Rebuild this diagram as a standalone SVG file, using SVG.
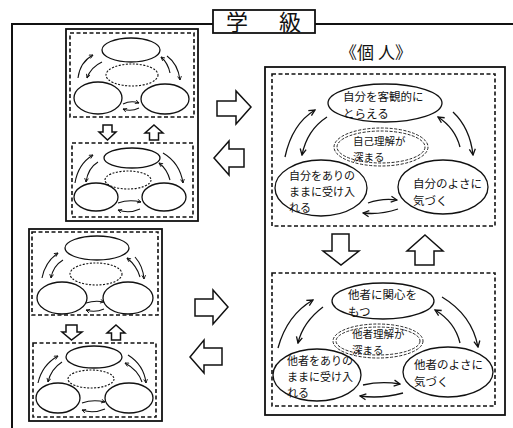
<svg xmlns="http://www.w3.org/2000/svg" width="513" height="428" viewBox="0 0 513 428">
<defs>
<style>
.frame{fill:none;stroke:#111;stroke-width:2}
.panel{fill:none;stroke:#111;stroke-width:1.8}
.dash{fill:none;stroke:#111;stroke-width:1.6;stroke-dasharray:4 2.5}
.ell{fill:#fff;stroke:#111;stroke-width:1.3}
.dot{fill:none;stroke:#111;stroke-width:1.1;stroke-dasharray:2 1.5}
.dot2{fill:none;stroke:#111;stroke-width:0.9;stroke-dasharray:3 1.5}
.arr{fill:none;stroke:#111;stroke-width:1.1;marker-end:url(#h)}
.arrb{fill:none;stroke:#111;stroke-width:1.3;marker-end:url(#hb)}
.blk{fill:#fff;stroke:#111;stroke-width:1.5;stroke-linejoin:miter}
.t{font-family:"Noto Sans CJK JP","Noto Sans CJK SC",sans-serif;fill:#111}
.n{font-size:11.5px}
.m{font-size:11px}
.s{font-size:10.5px}
</style>
<marker id="h" viewBox="0 0 8 8" refX="7" refY="4" markerWidth="5" markerHeight="5" orient="auto" markerUnits="userSpaceOnUse">
<path d="M1,1 L7,4 L1,7" fill="none" stroke="#111" stroke-width="1.4"/>
</marker>
<marker id="hb" viewBox="0 0 8 8" refX="7" refY="4" markerWidth="8" markerHeight="8" orient="auto" markerUnits="userSpaceOnUse">
<path d="M1,1 L7,4 L1,7" fill="none" stroke="#111" stroke-width="1.3"/>
</marker>
</defs>

<g id="class-frame">
<path class="frame" d="M12,428 L12,24 L213,24 M315,24 L513,24"/>
<rect x="213" y="10" width="102" height="23" fill="#fff" stroke="#111" stroke-width="1.8"/>
<text class="t" x="237" y="29.5" font-size="22" text-anchor="middle">学</text>
<text class="t" x="290" y="29.5" font-size="22" text-anchor="middle">級</text>
</g>

<!-- Top-left class panel -->
<g id="panel-tl">
<rect class="panel" x="66" y="29" width="132" height="192"/>
<rect class="dash" x="70" y="33" width="124" height="84"/>
<rect class="dash" x="72" y="143" width="121" height="74"/>
<ellipse class="ell" cx="131" cy="50" rx="29" ry="12"/>
<ellipse class="dot" cx="132" cy="75" rx="26" ry="11"/>
<ellipse class="ell" cx="98" cy="98" rx="24" ry="16"/>
<ellipse class="ell" cx="165" cy="99" rx="24" ry="15"/>
<ellipse class="ell" cx="132" cy="158" rx="28" ry="10"/>
<ellipse class="dot" cx="128" cy="180" rx="23" ry="9"/>
<ellipse class="ell" cx="96" cy="197" rx="22" ry="14"/>
<ellipse class="ell" cx="164" cy="197" rx="22" ry="14"/>
<path class="blk" d="M103,125 L112,125 L112,132 L116,132 L107.5,140 L99,132 L103,132 Z"/>
<path class="blk" d="M154,125 L163,133 L158.5,133 L158.5,140 L149.5,140 L149.5,133 L145,133 Z"/>
</g>

<!-- Bottom-left class panel -->
<g id="panel-bl">
<rect class="panel" x="29" y="229" width="133" height="192"/>
<rect class="dash" x="32" y="232" width="126" height="83"/>
<rect class="dash" x="33" y="343" width="123" height="74"/>
<ellipse class="ell" cx="97" cy="248" rx="32" ry="12"/>
<ellipse class="dot" cx="96" cy="274" rx="26" ry="11"/>
<ellipse class="ell" cx="62" cy="298" rx="25" ry="16"/>
<ellipse class="ell" cx="128" cy="298" rx="25" ry="16"/>
<ellipse class="ell" cx="94" cy="357" rx="28" ry="11"/>
<ellipse class="dot" cx="91" cy="379" rx="23" ry="9"/>
<ellipse class="ell" cx="58" cy="398" rx="22" ry="15"/>
<ellipse class="ell" cx="129" cy="398" rx="24" ry="15"/>
<path class="blk" d="M66,325 L77,325 L77,332 L82,332 L71.5,340 L62,332 L66,332 Z"/>
<path class="blk" d="M116,325 L125,333 L120.5,333 L120.5,340 L111.5,340 L111.5,333 L107,333 Z"/>
</g>

<!-- Individual panel -->
<g id="panel-individual">
<text class="t" x="376" y="59" font-size="17" text-anchor="middle">《個 人》</text>
<rect class="panel" x="265" y="67" width="240" height="348" stroke-width="2"/>
<rect class="dash" x="272" y="74" width="223" height="152"/>
<rect class="dash" x="272" y="273" width="223" height="133"/>
<path class="blk" d="M332,234 L349,234 L349,251 L359,251 L341,265 L323,251 L332,251 Z"/>
<path class="blk" d="M425,235 L443,251 L434,251 L434,265 L415,265 L415,251 L407,251 Z"/>
</g>

<g id="node-self-objective">
<ellipse class="ell" cx="385" cy="103" rx="57" ry="19"/>
<text class="t n" x="343" y="101">自分を客観的に</text>
<text class="t n" x="343" y="118">とらえる</text>
</g>
<g id="node-self-understanding">
<ellipse class="dot2" cx="381" cy="147" rx="47" ry="19"/>
<ellipse class="dot2" cx="381" cy="147" rx="44" ry="16"/>
<text class="t s" x="353" y="145">自己理解が</text>
<text class="t s" x="353" y="160.5">深まる</text>
</g>
<g id="node-self-accept">
<ellipse class="ell" cx="321" cy="188" rx="46" ry="28"/>
<text class="t m" x="289" y="180">自分をありの</text>
<text class="t m" x="289" y="196">ままに受け入</text>
<text class="t m" x="289" y="212">れる</text>
</g>
<g id="node-self-good">
<ellipse class="ell" cx="443" cy="187" rx="45" ry="27"/>
<text class="t n" x="413" y="188">自分のよさに</text>
<text class="t n" x="413" y="205">気づく</text>
</g>

<g id="node-other-interest">
<ellipse class="ell" cx="383" cy="301" rx="51" ry="18"/>
<text class="t n" x="348" y="299">他者に関心を</text>
<text class="t n" x="348" y="316">もつ</text>
</g>
<g id="node-other-understanding">
<ellipse class="dot2" cx="378" cy="341" rx="45" ry="17"/>
<ellipse class="dot2" cx="378" cy="341" rx="42" ry="14"/>
<text class="t s" x="352" y="338">他者理解が</text>
<text class="t s" x="352" y="353.5">深まる</text>
</g>
<g id="node-other-accept">
<ellipse class="ell" cx="317" cy="375" rx="44" ry="26"/>
<text class="t m" x="287" y="365">他者をありの</text>
<text class="t m" x="287" y="381">ままに受け入</text>
<text class="t m" x="287" y="397">れる</text>
</g>
<g id="node-other-good">
<ellipse class="ell" cx="448" cy="372" rx="45" ry="25"/>
<text class="t n" x="414" y="369">他者のよさに</text>
<text class="t n" x="414" y="386">気づく</text>
</g>

<g id="connectors">
<path class="blk" d="M217,101 L236,101 L236,91 L251,107 L236,124 L236,116 L217,116 Z"/>
<path class="blk" d="M244,149 L229,149 L229,141 L214,158 L229,175 L229,167 L244,167 Z"/>
<path class="blk" d="M195,299 L213,299 L213,290 L228,307 L213,324 L213,316 L195,316 Z"/>
<path class="blk" d="M222,348 L204,348 L204,340 L190,357 L204,373 L204,365 L222,365 Z"/>

<path class="arr" d="M78,78 Q80,62 93,55"/>
<path class="arr" d="M102,62 Q91,67 87,78"/>
<path class="arr" d="M170,73 Q168,63 161,57"/>
<path class="arr" d="M167,56 Q178,64 180,80"/>
<path class="arr" d="M123,104 Q131,100 139,103"/>
<path class="arr" d="M139,108 Q131,112 123,109"/>

<path class="arr" d="M75,183 Q78,164 93,155"/>
<path class="arr" d="M98,162 Q88,168 86,182"/>
<path class="arr" d="M170,180 Q167,169 159,163"/>
<path class="arr" d="M163,153 Q180,163 183,183"/>
<path class="arr" d="M118,203 Q129,199 141,202"/>
<path class="arr" d="M140,209 Q129,214 118,210"/>

<path class="arr" d="M42,278 Q45,262 58,253"/>
<path class="arr" d="M63,260 Q53,266 51,278"/>
<path class="arr" d="M140,277 Q137,266 127,258"/>
<path class="arr" d="M135,257 Q143,266 144,279"/>
<path class="arr" d="M86,303 Q95,300 104,302"/>
<path class="arr" d="M104,309 Q95,313 86,310"/>

<path class="arr" d="M38,383 Q42,365 58,356"/>
<path class="arr" d="M62,362 Q51,369 48,382"/>
<path class="arr" d="M142,382 Q138,370 125,363"/>
<path class="arr" d="M128,355 Q144,365 146,383"/>
<path class="arr" d="M82,403 Q93,399 105,402"/>
<path class="arr" d="M105,409 Q93,414 82,410"/>

<path class="arrb" d="M285,157 Q292,124 315,110"/>
<path class="arrb" d="M327,117 Q307,130 302,155"/>
<path class="arrb" d="M460,147 Q455,128 438,117"/>
<path class="arrb" d="M453,112 Q470,128 473,155"/>
<path class="arrb" d="M368,203 Q382,198 397,200"/>
<path class="arrb" d="M398,209 Q380,215 363,213"/>

<path class="arrb" d="M278,348 Q287,315 313,300"/>
<path class="arrb" d="M323,307 Q303,322 298,343"/>
<path class="arrb" d="M460,343 Q455,322 435,310"/>
<path class="arrb" d="M442,297 Q472,315 478,347"/>
<path class="arrb" d="M363,385 Q381,381 400,384"/>
<path class="arrb" d="M403,393 Q381,399 360,396"/>
</g>
</svg>
